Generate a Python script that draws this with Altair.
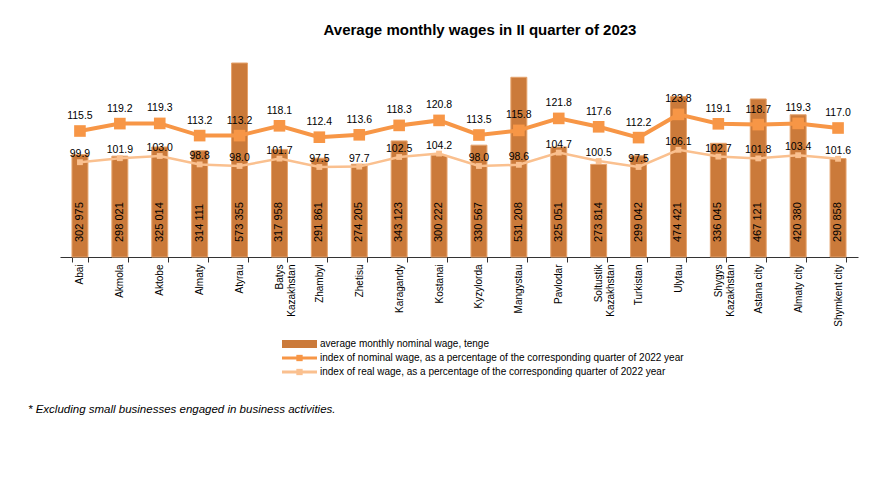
import altair as alt
import pandas as pd

regions = ["Abai", "Akmola", "Aktobe", "Almaty", "Atyrau", "Batys Kazakhstan", "Zhambyl",
           "Zhetisu", "Karagandy", "Kostanai", "Kyzylorda", "Mangystau", "Pavlodar",
           "Soltustik Kazakhstan", "Turkistan", "Ulytau", "Shygys Kazakhstan", "Astana city",
           "Almaty  city", "Shymkent city"]
wage = [302975, 298021, 325014, 314111, 573355, 317958, 291861, 274205, 343123, 300222,
        330567, 531208, 325051, 273814, 299042, 474421, 336045, 467121, 420380, 290858]
nominal_idx = [115.5, 119.2, 119.3, 113.2, 113.2, 118.1, 112.4, 113.6, 118.3, 120.8,
               113.5, 115.8, 121.8, 117.6, 112.2, 123.8, 119.1, 118.7, 119.3, 117.0]
real_idx = [99.9, 101.9, 103.0, 98.8, 98.0, 101.7, 97.5, 97.7, 102.5, 104.2,
            98.0, 98.6, 104.7, 100.5, 97.5, 106.1, 102.7, 101.8, 103.4, 101.6]

legend_labels = ["average monthly nominal wage, tenge",
                 "index of nominal wage,  as a percentage of the corresponding quarter of 2022 year",
                 "index of real wage, as a percentage of the corresponding quarter of 2022 year"]
title_text = "Average monthly wages in II quarter of 2023"
footnote = "* Excluding small businesses engaged in business activities."

BAR = "#CB7A3A"
BAR_EDGE = "#E6A36C"
NOM = "#F79646"
REAL = "#FAC08F"
FONT = "Liberation Sans"

df = pd.DataFrame({
    "region": regions,
    "wage": wage,
    "wage_lbl": [f"{v:,}".replace(",", " ") for v in wage],
    "nominal": nominal_idx,
    "real": real_idx,
})
df["nom_lbl"] = df["nominal"].map(lambda v: f"{v:.1f}")
df["real_lbl"] = df["real"].map(lambda v: f"{v:.1f}")

W, H = 798, 203

xenc = alt.X("region:N", sort=regions, title=None,
             scale=alt.Scale(paddingInner=0.6, paddingOuter=0.3),
             axis=alt.Axis(labelAngle=-90, tickBand="extent", tickSize=5, labelPadding=2,
                           labelFontSize=10, labelFont=FONT, labelColor="#000",
                           labelLineHeight=12, domainColor="#333", tickColor="#333",
                           labelExpr="indexof(datum.label, 'Kazakhstan') > 0 ? split(datum.label, ' ') : datum.label"))

bar_scale = alt.Scale(domain=[0, 600000], nice=False, zero=True)
idx_scale = alt.Scale(domain=[52.5, 154], nice=False, zero=False)

base = alt.Chart(df)

bars = base.mark_bar(color=BAR, stroke=BAR_EDGE, strokeWidth=1).encode(
    x=xenc, y=alt.Y("wage:Q", scale=bar_scale, axis=None))

bar_text = base.mark_text(angle=270, align="left", baseline="middle", fontSize=11,
                          font=FONT, color="#000", yOffset=-15).encode(
    x=alt.X("region:N", sort=regions),
    y=alt.Y("zero:Q", scale=bar_scale, axis=None),
    text="wage_lbl:N").transform_calculate(zero="0")

real_line = base.mark_line(color=REAL, strokeWidth=2.5).encode(
    x=alt.X("region:N", sort=regions), y=alt.Y("real:Q", scale=idx_scale, axis=None))
real_pts = base.mark_square(color=REAL, size=34, opacity=1).encode(
    x=alt.X("region:N", sort=regions), y=alt.Y("real:Q", scale=idx_scale, axis=None))
real_txt = base.mark_text(fontSize=10.5, font=FONT, color="#000", dy=-8).encode(
    x=alt.X("region:N", sort=regions), y=alt.Y("real:Q", scale=idx_scale, axis=None),
    text="real_lbl:N")

nom_line = base.mark_line(color=NOM, strokeWidth=4).encode(
    x=alt.X("region:N", sort=regions), y=alt.Y("nominal:Q", scale=idx_scale, axis=None))
nom_pts = base.mark_square(color=NOM, size=135, opacity=1).encode(
    x=alt.X("region:N", sort=regions), y=alt.Y("nominal:Q", scale=idx_scale, axis=None))
nom_txt = base.mark_text(fontSize=10.5, font=FONT, color="#000", dy=-15).encode(
    x=alt.X("region:N", sort=regions), y=alt.Y("nominal:Q", scale=idx_scale, axis=None),
    text="nom_lbl:N")

# Legend (drawn manually below the plot)
leg_df = pd.DataFrame({"label": legend_labels})
row_y = [290, 304, 318]
sx0, sx1, tx = 222, 257, 260

def leg_text(i):
    return alt.Chart(leg_df.iloc[[i]]).mark_text(align="left", baseline="middle", fontSize=10,
                                                  font=FONT, color="#000").encode(
        x=alt.value(tx), y=alt.value(row_y[i]), text="label:N")

leg_bar = alt.Chart(leg_df.iloc[[0]]).mark_rect(color=BAR).encode(
    x=alt.value(sx0), x2=alt.value(sx1), y=alt.value(row_y[0] - 4), y2=alt.value(row_y[0] + 4))
leg_nom_line = alt.Chart(leg_df.iloc[[1]]).mark_rule(color=NOM, strokeWidth=3).encode(
    x=alt.value(sx0), x2=alt.value(sx1), y=alt.value(row_y[1]))
leg_nom_pt = alt.Chart(leg_df.iloc[[1]]).mark_square(color=NOM, size=40, opacity=1).encode(
    x=alt.value((sx0 + sx1) / 2), y=alt.value(row_y[1]))
leg_real_line = alt.Chart(leg_df.iloc[[2]]).mark_rule(color=REAL, strokeWidth=3).encode(
    x=alt.value(sx0), x2=alt.value(sx1), y=alt.value(row_y[2]))
leg_real_pt = alt.Chart(leg_df.iloc[[2]]).mark_square(color=REAL, size=40, opacity=1).encode(
    x=alt.value((sx0 + sx1) / 2), y=alt.value(row_y[2]))

foot = alt.Chart(pd.DataFrame({"t": [footnote]})).mark_text(
    align="left", baseline="middle", fontSize=11.5, font=FONT, fontStyle="italic", color="#000").encode(
    x=alt.value(-32), y=alt.value(356), text="t:N")

chart = alt.layer(
    bars, bar_text, real_line, real_pts, nom_line, nom_pts, real_txt, nom_txt,
    leg_bar, leg_nom_line, leg_nom_pt, leg_real_line, leg_real_pt,
    leg_text(0), leg_text(1), leg_text(2), foot
).resolve_scale(y="independent").properties(
    width=W, height=H,
    title=alt.TitleParams(title_text, fontSize=15, fontWeight="bold", font=FONT, color="#000",
                          anchor="middle", offset=16, dx=21),
    autosize=alt.AutoSizeParams(type="none"),
    padding={"left": 52, "top": 46, "right": 18, "bottom": 233},
).configure(background="white", view=alt.ViewConfig(stroke=None))

chart.save("out.html", embed_options={"renderer": "svg", "actions": False})
